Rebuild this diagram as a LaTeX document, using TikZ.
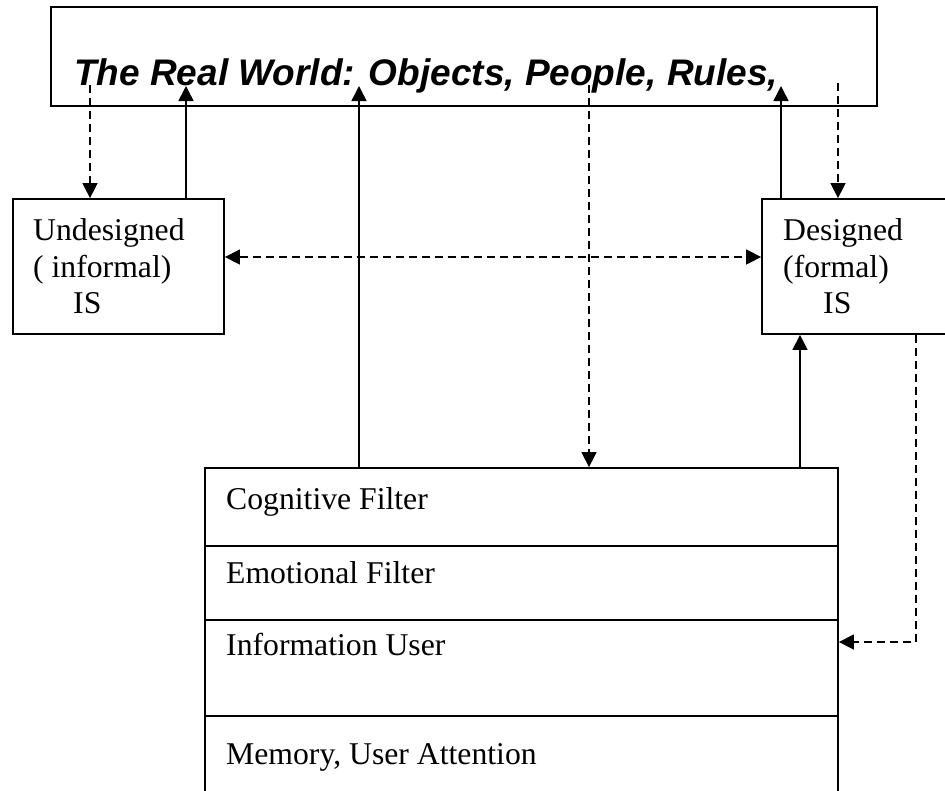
\documentclass[tikz,border=0pt]{standalone}
\usepackage{fontspec}
\setmainfont{Liberation Serif}
\setsansfont{Liberation Sans}
\usetikzlibrary{arrows.meta,calc}
\tikzset{
  box/.style={draw,line width=1.8pt,rectangle,inner sep=0pt},
  rowline/.style={line width=1.6pt},
  lbl/.style={anchor=base west,inner sep=0pt,font=\fontsize{31.7}{36.5}\selectfont},
  tip/.style={Triangle[width=15pt,length=15pt]},
  solidarr/.style={line width=1.5pt,-{Triangle[width=15pt,length=15pt]}},
  dasharr/.style={line width=1.5pt,dash pattern=on 8pt off 5pt,-{Triangle[width=15pt,length=15pt]}},
  dashboth/.style={line width=1.5pt,dash pattern=on 8pt off 5pt,{Triangle[width=15pt,length=15pt]}-{Triangle[width=15pt,length=15pt]}}
}
\begin{document}
\begin{tikzpicture}[x=1pt,y=-1pt]
\useasboundingbox (0,0) rectangle (945,790);
\clip (0,0) rectangle (945,790);
% boxes
\node[box,minimum width=826pt,minimum height=99pt] (world) at (464,56.5) {};
\node[box,minimum width=211pt,minimum height=135pt] (und) at (118.5,266.5) {};
\node[box,minimum width=198pt,minimum height=135pt] (des) at (861,266.5) {};
\node[box,minimum width=633pt,minimum height=352pt] (user) at (521.5,644) {};
\draw[rowline] (user.west |- 0,546) coordinate (r1w) -- (user.east |- 0,546) coordinate (r1e);
\draw[rowline] (user.west |- 0,620) coordinate (r2w) -- (user.east |- 0,620) coordinate (r2e);
\draw[rowline] (user.west |- 0,716) coordinate (r3w) -- (user.east |- 0,716) coordinate (r3e);
% texts
\node[anchor=base west,inner sep=0pt,font=\fontsize{37}{41}\selectfont\sffamily\bfseries\itshape] (title) at (74,85) {The Real World: Objects, People, Rules,};
\node[lbl] (u1) at (33,240) {Undesigned};
\node[lbl] (u2) at (33,277) {( informal)};
\node[lbl] (u3) at (73,313) {IS};
\node[lbl] (d1) at (783,240) {Designed};
\node[lbl] (d2) at (783,277) {(formal)};
\node[lbl] (d3) at (823,313) {IS};
\node[lbl] (c1) at (226,509) {Cognitive Filter};
\node[lbl] (c2) at (226,583) {Emotional Filter};
\node[lbl] (c3) at (226,655) {Information User};
\node[lbl] (c4) at (226,764) {Memory, User Attention};
% arrow end points inside the top box
\coordinate (w1) at (90,85);
\coordinate (w2) at (186,86);
\coordinate (w3) at (359,86);
\coordinate (w4) at (589,85);
\coordinate (w5) at (781,86);
\coordinate (w6) at (838,83);
\coordinate (k1) at (916,642);
% connectors
\draw[dasharr] (w1) -- (w1 |- und.north);
\draw[solidarr] (w2 |- und.north) -- (w2);
\draw[solidarr] (w3 |- user.north) -- (w3);
\draw[dasharr] (w4) -- (w4 |- user.north);
\draw[solidarr] (w5 |- des.north) -- (w5);
\draw[dasharr] (w6) -- (w6 |- des.north);
\draw[dashboth] (und.east |- 0,257) -- (des.west |- 0,257);
\draw[solidarr] (user.north -| 800,0) -- (des.south -| 800,0);
\draw[dasharr] (k1 |- des.south) -- (k1) -- (user.east |- k1);
\end{tikzpicture}
\end{document}
